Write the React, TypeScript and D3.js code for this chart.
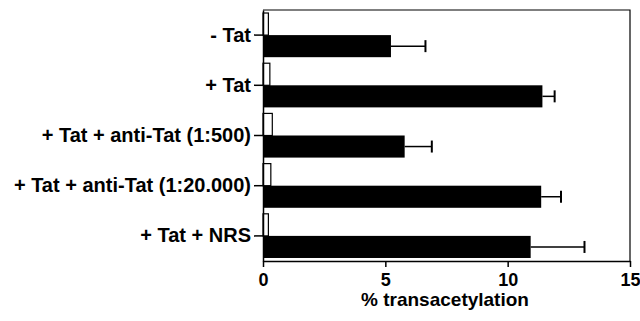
import { useEffect, useRef } from "react";
import * as d3 from "d3";

const categories = [
  "- Tat",
  "+ Tat",
  "+ Tat + anti-Tat (1:500)",
  "+ Tat + anti-Tat (1:20.000)",
  "+ Tat + NRS",
];
const controlValues = [0.22, 0.28, 0.38, 0.32, 0.22];
const meanValues = [5.23, 11.42, 5.79, 11.37, 10.94];
const errorValues = [1.41, 0.5, 1.11, 0.81, 2.2];
const xTicks = [0, 5, 10, 15];

const App = () => {
  const ref = useRef<SVGSVGElement>(null);

  useEffect(() => {
    const svg = d3.select(ref.current);
    svg.selectAll("*").remove();

    const dims = { width: 640, height: 321, left: 263, right: 630, top: 10, bottom: 261 };
    const font = "'Liberation Sans', Arial, sans-serif";

    const xScale = d3.scaleLinear().domain([0, 15]).range([dims.left, dims.right]);
    const yScale = d3
      .scaleBand()
      .domain(categories)
      .range([dims.top, dims.bottom])
      .paddingInner(0.12)
      .paddingOuter(0.06);
    const half = yScale.bandwidth() / 2;
    const center = (c: string) => (yScale(c) as number) + half;

    // frame: top and right
    svg
      .append("path")
      .attr("d", `M${dims.left},${dims.top}H${dims.right}V${dims.bottom}`)
      .attr("fill", "none")
      .attr("stroke", "#000")
      .attr("stroke-width", 1.2);

    const data = categories.map((c, i) => ({
      c,
      ctrl: controlValues[i],
      mean: meanValues[i],
      err: errorValues[i],
    }));

    // open control bars
    svg
      .selectAll("rect.ctrl")
      .data(data)
      .enter()
      .append("rect")
      .attr("class", "ctrl")
      .attr("x", xScale(0))
      .attr("y", (d) => yScale(d.c) as number)
      .attr("width", (d) => xScale(d.ctrl) - xScale(0))
      .attr("height", half)
      .attr("fill", "#fff")
      .attr("stroke", "#000")
      .attr("stroke-width", 1.2);

    // error bars
    const eb = svg.selectAll("g.err").data(data).enter().append("g").attr("class", "err");
    eb.append("line")
      .attr("x1", (d) => xScale(d.mean))
      .attr("x2", (d) => xScale(d.mean + d.err))
      .attr("y1", (d) => center(d.c) + half / 2)
      .attr("y2", (d) => center(d.c) + half / 2)
      .attr("stroke", "#000")
      .attr("stroke-width", 1.5);
    eb.append("line")
      .attr("x1", (d) => xScale(d.mean + d.err))
      .attr("x2", (d) => xScale(d.mean + d.err))
      .attr("y1", (d) => center(d.c) + half / 2 - 6)
      .attr("y2", (d) => center(d.c) + half / 2 + 6)
      .attr("stroke", "#000")
      .attr("stroke-width", 2);

    // black bars
    svg
      .selectAll("rect.mean")
      .data(data)
      .enter()
      .append("rect")
      .attr("class", "mean")
      .attr("x", xScale(0))
      .attr("y", (d) => center(d.c))
      .attr("width", (d) => xScale(d.mean) - xScale(0))
      .attr("height", half)
      .attr("fill", "#000");

    // axes
    const axisX = d3.axisBottom(xScale).tickValues(xTicks).tickSize(6).tickSizeOuter(0);
    const gx = svg.append("g").attr("transform", `translate(0,${dims.bottom})`).call(axisX);
    gx.select(".domain").attr("stroke-width", 1.5);
    gx.selectAll(".tick line").attr("stroke-width", 1.5);
    gx.selectAll("text")
      .attr("font-family", font)
      .attr("font-size", 18)
      .attr("font-weight", "bold")
      .attr("fill", "#000")
      .attr("y", 25)
      .attr("dy", 0);

    const axisY = d3
      .axisLeft(yScale.copy().paddingInner(0).paddingOuter(0).range([dims.top, dims.bottom]))
      .tickSize(9)
      .tickSizeOuter(0);
    const gy = svg.append("g").attr("transform", `translate(${dims.left},0)`).call(axisY);
    gy.select(".domain").attr("stroke-width", 1.5);
    gy.selectAll(".tick").attr("transform", (d: any) => `translate(0,${center(d)})`);
    gy.selectAll(".tick line").attr("stroke-width", 1.5);
    gy.selectAll("text")
      .attr("font-family", font)
      .attr("font-size", 20)
      .attr("font-weight", "bold")
      .attr("fill", "#000")
      .attr("x", -12);

    svg
      .append("text")
      .attr("x", 445)
      .attr("y", 306)
      .attr("text-anchor", "middle")
      .attr("font-family", font)
      .attr("font-size", 19)
      .attr("font-weight", "bold")
      .text("% transacetylation");
  }, []);

  return (
    <svg
      ref={ref}
      width={640}
      height={321}
      style={{ position: "absolute", left: 0, top: 0, background: "#fff" }}
    />
  );
};

export default App;
